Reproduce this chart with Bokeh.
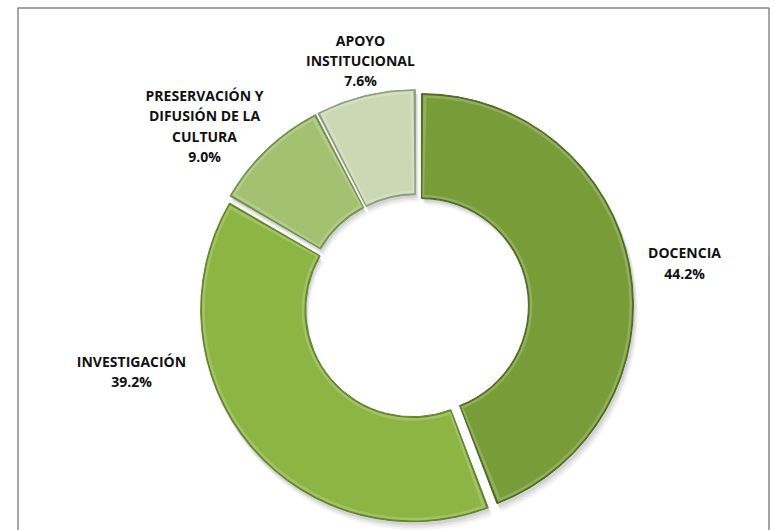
import numpy as np
from bokeh.plotting import figure
from bokeh.models import Range1d
from bokeh.core.properties import value
from bokeh.embed import file_html
from bokeh.resources import INLINE

# ---- data ----
categories = ["DOCENCIA", "INVESTIGACIÓN", "PRESERVACIÓN Y\nDIFUSIÓN DE LA\nCULTURA", "APOYO\nINSTITUCIONAL"]
shares = [44.2, 39.2, 9.0, 7.6]
colors = ["#789C38", "#8DB544", "#A4C171", "#CAD9B3"]
edge_colors = ["#4F6B22", "#628529", "#748F4A", "#8E9C80"]

# ---- layout (page pixel coordinates, y measured downward) ----
W, H = 775, 530
def py(y):
    return H - y

cx, cy = 416, py(306)
r_out, r_in = 212, 107
explode = 5.0

vals = np.array(shares, dtype=float)
frac = vals / vals.sum()
cum = np.concatenate([[0.0], np.cumsum(frac)])
start = np.pi / 2 - 2 * np.pi * cum[:-1]
end = np.pi / 2 - 2 * np.pi * cum[1:]
mid = (start + end) / 2
xs = cx + explode * np.cos(mid)
ys = cy + explode * np.sin(mid)

def tint(hexcol, t):
    h = hexcol.lstrip("#")
    rgb = [int(h[i:i + 2], 16) for i in (0, 2, 4)]
    rgb = [round(c + (255 - c) * t) for c in rgb]
    return "#%02x%02x%02x" % tuple(rgb)

rim_colors = [tint(c, 0.18) for c in colors]

p = figure(width=W, height=H, output_backend="svg", toolbar_location=None,
           x_range=Range1d(0, W), y_range=Range1d(0, H), min_border=0)
p.axis.visible = False
p.grid.visible = False
p.outline_line_color = None
p.background_fill_color = "white"
p.border_fill_color = "white"

# chart frame (left, top, right; bottom is outside the picture)
p.multi_line(xs=[[17.5, 17.5, 768.5, 768.5]],
             ys=[[py(545), py(7.5), py(7.5), py(545)]],
             line_color="#888888", line_width=1.5)

# soft shadow
for k, a in [(7, 0.04), (5, 0.06), (3, 0.08)]:
    p.annular_wedge(x=xs + k * 0.5, y=ys - k, inner_radius=r_in, outer_radius=r_out + k * 0.2,
                    start_angle=start, end_angle=end, direction="clock",
                    fill_color="black", fill_alpha=a, line_color=None)

# slice: dark outline, light rim, body
p.annular_wedge(x=xs, y=ys, inner_radius=r_in, outer_radius=r_out,
                start_angle=start, end_angle=end, direction="clock",
                fill_color=edge_colors, line_color=edge_colors, line_width=1.0)

def inset_wedge(d, fills):
    rm = (r_in + r_out) / 2
    da = d / rm
    p.annular_wedge(x=xs, y=ys, inner_radius=r_in + d, outer_radius=r_out - d,
                    start_angle=start - da, end_angle=end + da, direction="clock",
                    fill_color=fills, line_color=None)

inset_wedge(1.3, rim_colors)
inset_wedge(4.0, colors)

# labels, one line at a time
block_x = [684, 131, 204, 360]
block_y = [262.5, 371, 125.5, 60]
line_gap = 20.4
lx, ly, lt = [], [], []
for c, v, bx, by in zip(categories, shares, block_x, block_y):
    lines = c.split("\n") + [f"{v:.1f}%"]
    n = len(lines)
    for i, t in enumerate(lines):
        lx.append(bx)
        ly.append(py(by + (i - (n - 1) / 2) * line_gap))
        lt.append(t)

p.text(x=lx, y=ly, text=lt,
       text_font=value("Open Sans"), text_font_style="bold", text_font_size="14px",
       text_color="#111111", text_align="center", text_baseline="middle")

open("out.html", "w").write(file_html(p, INLINE))
